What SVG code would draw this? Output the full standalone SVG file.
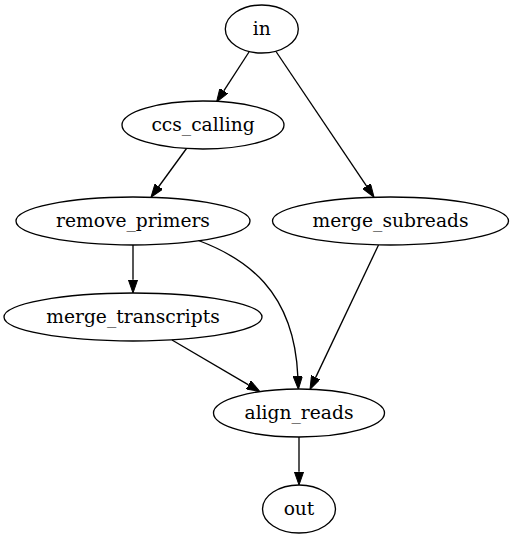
<svg xmlns="http://www.w3.org/2000/svg" width="511" height="539" viewBox="0 0 511 539">
<defs>
<style>
.node ellipse{fill:none;stroke:#000;stroke-width:1.33}
.node text{font-family:"DejaVu Serif",serif;font-size:18.67px;text-anchor:middle;fill:#000}
.edges path{fill:none;stroke:#000;stroke-width:1.33}
</style>
<marker id="arr" viewBox="0 0 13.33 9.33" refX="0" refY="4.67" markerWidth="13.33" markerHeight="9.33" markerUnits="userSpaceOnUse" orient="auto">
<path d="M0,0 L13.33,4.67 L0,9.33 z" fill="#000" stroke="#000" stroke-width="1"/>
</marker>
</defs>
<rect width="511" height="539" fill="#fff"/>
<g class="edges">
<path d="M249,52 L223.8,90.8" marker-end="url(#arr)"/>
<path d="M276,51.5 L366.6,186.1" marker-end="url(#arr)"/>
<path d="M186.5,148.5 L158.8,186.5" marker-end="url(#arr)"/>
<path d="M133,245 L133,279.7" marker-end="url(#arr)"/>
<path d="M198.5,240.5 C245,258 294,290 297.8,376" marker-end="url(#arr)"/>
<path d="M378.5,245 L315.7,377.4" marker-end="url(#arr)"/>
<path d="M172,340 L248.5,384.9" marker-end="url(#arr)"/>
<path d="M299,437 L299,471.7" marker-end="url(#arr)"/>
</g>
<g id="in" class="node"><ellipse cx="261.8" cy="29" rx="36.5" ry="24"/><text x="261.8" y="34.5">in</text></g>
<g id="ccs_calling" class="node"><ellipse cx="203" cy="125" rx="81" ry="24"/><text x="203" y="130.5">ccs_calling</text></g>
<g id="remove_primers" class="node"><ellipse cx="133" cy="221" rx="117" ry="24"/><text x="133" y="226.5">remove_primers</text></g>
<g id="merge_subreads" class="node"><ellipse cx="390.5" cy="221" rx="118" ry="24"/><text x="390.5" y="226.5">merge_subreads</text></g>
<g id="merge_transcripts" class="node"><ellipse cx="133" cy="317" rx="129" ry="24"/><text x="133" y="322.5">merge_transcripts</text></g>
<g id="align_reads" class="node"><ellipse cx="299" cy="413" rx="85.5" ry="24"/><text x="299" y="418.5">align_reads</text></g>
<g id="out" class="node"><ellipse cx="299" cy="509" rx="36.5" ry="24"/><text x="299" y="514.5">out</text></g>
</svg>
